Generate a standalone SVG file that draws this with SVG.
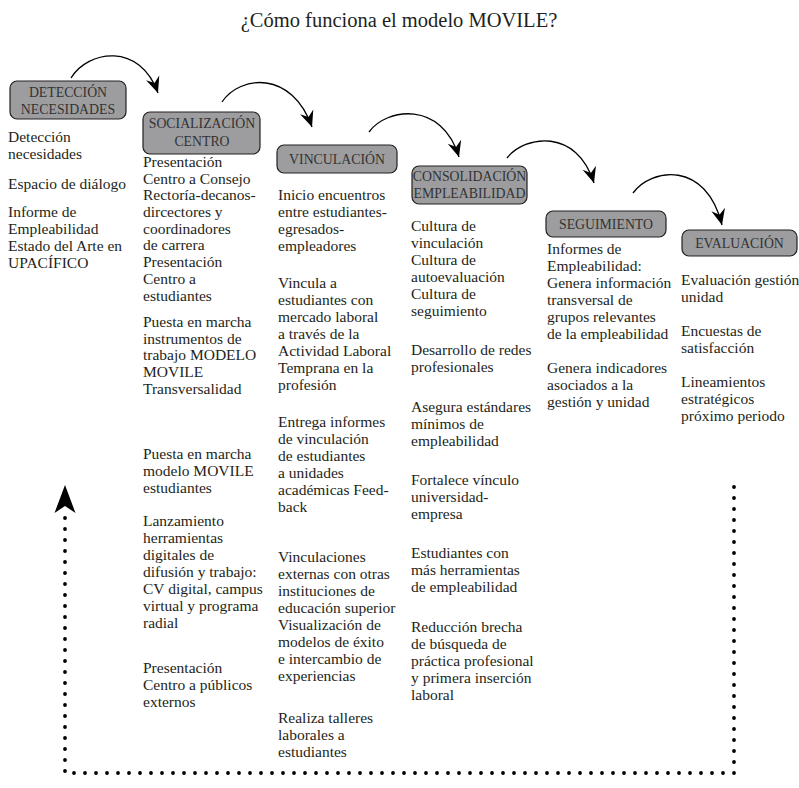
<svg xmlns="http://www.w3.org/2000/svg" width="799" height="788" viewBox="0 0 799 788">
<style>
.t{font-family:"Liberation Serif","Times New Roman",serif;font-size:15.5px;fill:#231f20}
.h{font-family:"Liberation Serif","Times New Roman",serif;font-size:13.8px;fill:#333;text-anchor:middle}
.title{font-family:"Liberation Serif","Times New Roman",serif;font-size:20.5px;fill:#231f20;text-anchor:middle}
.box{fill:#9d9d9f;stroke:#231f20;stroke-width:1.2}
.arc{fill:none;stroke:#000;stroke-width:1.3;marker-end:url(#ah)}
.dot{fill:none;stroke:#000;stroke-width:3.8;stroke-linecap:round;stroke-dasharray:0 11}
</style>
<defs>
<marker id="ah" viewBox="-17 -8 18 16" refX="0" refY="0" markerWidth="18" markerHeight="16" markerUnits="userSpaceOnUse" orient="auto">
<path d="M0,0 L-16,-7 L-10.5,0 L-16,7 Z" fill="#000"/>
</marker>
</defs>
<rect width="799" height="788" fill="#fff"/>
<text class="title" x="399" y="27">¿Cómo funciona el modelo MOVILE?</text>

<g id="connectors">
<path class="arc" d="M71,78 C88,50 140,42 158,93"/>
<path class="arc" d="M222,102 C240,75 292,70 312,127"/>
<path class="arc" d="M369,132 C386,108 442,100 459,157"/>
<path class="arc" d="M507,158 C525,135 577,128 594,183"/>
<path class="arc" d="M633,193 C651,168 706,160 722,225"/>
<path class="dot" d="M65,518 L65,773 L734,773 L734,486"/>
<path d="M65,485 L75.5,513 L65,506 L54.5,513 Z" fill="#000"/>
</g>

<g id="deteccion">
<rect class="box" x="10" y="81" width="116" height="38" rx="7"/>
<text class="h" x="68" y="97">DETECCIÓN</text>
<text class="h" x="68" y="114">NECESIDADES</text>
<text class="t" x="8" y="142">Detección</text>
<text class="t" x="8" y="159">necesidades</text>
<text class="t" x="8" y="189">Espacio de diálogo</text>
<text class="t" x="8" y="217">Informe de</text>
<text class="t" x="8" y="234">Empleabilidad</text>
<text class="t" x="8" y="251">Estado del Arte en</text>
<text class="t" x="8" y="268">UPACÍFICO</text>
</g>

<g id="socializacion">
<rect class="box" x="143" y="112" width="117" height="42" rx="7"/>
<text class="h" x="202" y="128">SOCIALIZACIÓN</text>
<text class="h" x="202" y="146">CENTRO</text>
<text class="t" x="143" y="167">Presentación</text>
<text class="t" x="143" y="184">Centro a Consejo</text>
<text class="t" x="143" y="200">Rectoría-decanos-</text>
<text class="t" x="143" y="217">dircectores y</text>
<text class="t" x="143" y="234">coordinadores</text>
<text class="t" x="143" y="250">de carrera</text>
<text class="t" x="143" y="267">Presentación</text>
<text class="t" x="143" y="284">Centro a</text>
<text class="t" x="143" y="301">estudiantes</text>
<text class="t" x="143" y="327">Puesta en marcha</text>
<text class="t" x="143" y="344">instrumentos de</text>
<text class="t" x="143" y="360">trabajo MODELO</text>
<text class="t" x="143" y="377">MOVILE</text>
<text class="t" x="143" y="394">Transversalidad</text>
<text class="t" x="143" y="459">Puesta en marcha</text>
<text class="t" x="143" y="476">modelo MOVILE</text>
<text class="t" x="143" y="493">estudiantes</text>
<text class="t" x="143" y="526">Lanzamiento</text>
<text class="t" x="143" y="543">herramientas</text>
<text class="t" x="143" y="560">digitales de</text>
<text class="t" x="143" y="577">difusión y trabajo:</text>
<text class="t" x="143" y="594">CV digital, campus</text>
<text class="t" x="143" y="611">virtual y programa</text>
<text class="t" x="143" y="628">radial</text>
<text class="t" x="143" y="673">Presentación</text>
<text class="t" x="143" y="690">Centro a públicos</text>
<text class="t" x="143" y="707">externos</text>
</g>

<g id="vinculacion">
<rect class="box" x="277" y="145" width="120" height="28" rx="7"/>
<text class="h" x="337" y="163.5">VINCULACIÓN</text>
<text class="t" x="278" y="200">Inicio encuentros</text>
<text class="t" x="278" y="217">entre estudiantes-</text>
<text class="t" x="278" y="234">egresados-</text>
<text class="t" x="278" y="251">empleadores</text>
<text class="t" x="278" y="288">Vincula a</text>
<text class="t" x="278" y="305">estudiantes con</text>
<text class="t" x="278" y="322">mercado laboral</text>
<text class="t" x="278" y="339">a través de la</text>
<text class="t" x="278" y="356">Actividad Laboral</text>
<text class="t" x="278" y="373">Temprana en la</text>
<text class="t" x="278" y="390">profesión</text>
<text class="t" x="278" y="427">Entrega informes</text>
<text class="t" x="278" y="444">de vinculación</text>
<text class="t" x="278" y="461">de estudiantes</text>
<text class="t" x="278" y="478">a unidades</text>
<text class="t" x="278" y="495">académicas Feed-</text>
<text class="t" x="278" y="512">back</text>
<text class="t" x="278" y="562">Vinculaciones</text>
<text class="t" x="278" y="579">externas con otras</text>
<text class="t" x="278" y="596">instituciones de</text>
<text class="t" x="278" y="613">educación superior</text>
<text class="t" x="278" y="630">Visualización de</text>
<text class="t" x="278" y="647">modelos de éxito</text>
<text class="t" x="278" y="664">e intercambio de</text>
<text class="t" x="278" y="681">experiencias</text>
<text class="t" x="278" y="723">Realiza talleres</text>
<text class="t" x="278" y="740">laborales a</text>
<text class="t" x="278" y="757">estudiantes</text>
</g>

<g id="consolidacion">
<rect class="box" x="412" y="166" width="115" height="38" rx="7"/>
<text class="h" x="469.5" y="181">CONSOLIDACIÓN</text>
<text class="h" x="469.5" y="198">EMPLEABILIDAD</text>
<text class="t" x="411" y="231">Cultura de</text>
<text class="t" x="411" y="248">vinculación</text>
<text class="t" x="411" y="265">Cultura de</text>
<text class="t" x="411" y="282">autoevaluación</text>
<text class="t" x="411" y="299">Cultura de</text>
<text class="t" x="411" y="316">seguimiento</text>
<text class="t" x="411" y="355">Desarrollo de redes</text>
<text class="t" x="411" y="372">profesionales</text>
<text class="t" x="411" y="412">Asegura estándares</text>
<text class="t" x="411" y="429">mínimos de</text>
<text class="t" x="411" y="446">empleabilidad</text>
<text class="t" x="411" y="485">Fortalece vínculo</text>
<text class="t" x="411" y="502">universidad-</text>
<text class="t" x="411" y="519">empresa</text>
<text class="t" x="411" y="558">Estudiantes con</text>
<text class="t" x="411" y="575">más herramientas</text>
<text class="t" x="411" y="592">de empleabilidad</text>
<text class="t" x="411" y="632">Reducción brecha</text>
<text class="t" x="411" y="649">de búsqueda de</text>
<text class="t" x="411" y="666">práctica profesional</text>
<text class="t" x="411" y="683">y primera inserción</text>
<text class="t" x="411" y="700">laboral</text>
</g>

<g id="seguimiento">
<rect class="box" x="546" y="211" width="120" height="26" rx="7"/>
<text class="h" x="606" y="229">SEGUIMIENTO</text>
<text class="t" x="547" y="254">Informes de</text>
<text class="t" x="547" y="271">Empleabilidad:</text>
<text class="t" x="547" y="288">Genera información</text>
<text class="t" x="547" y="305">transversal de</text>
<text class="t" x="547" y="322">grupos relevantes</text>
<text class="t" x="547" y="339">de la empleabilidad</text>
<text class="t" x="547" y="373">Genera indicadores</text>
<text class="t" x="547" y="390">asociados a la</text>
<text class="t" x="547" y="407">gestión y unidad</text>
</g>

<g id="evaluacion">
<rect class="box" x="682" y="230" width="115" height="26" rx="7"/>
<text class="h" x="739.5" y="248">EVALUACIÓN</text>
<text class="t" x="681" y="285">Evaluación gestión</text>
<text class="t" x="681" y="302">unidad</text>
<text class="t" x="681" y="336">Encuestas de</text>
<text class="t" x="681" y="353">satisfacción</text>
<text class="t" x="681" y="387">Lineamientos</text>
<text class="t" x="681" y="404">estratégicos</text>
<text class="t" x="681" y="421">próximo periodo</text>
</g>
</svg>
